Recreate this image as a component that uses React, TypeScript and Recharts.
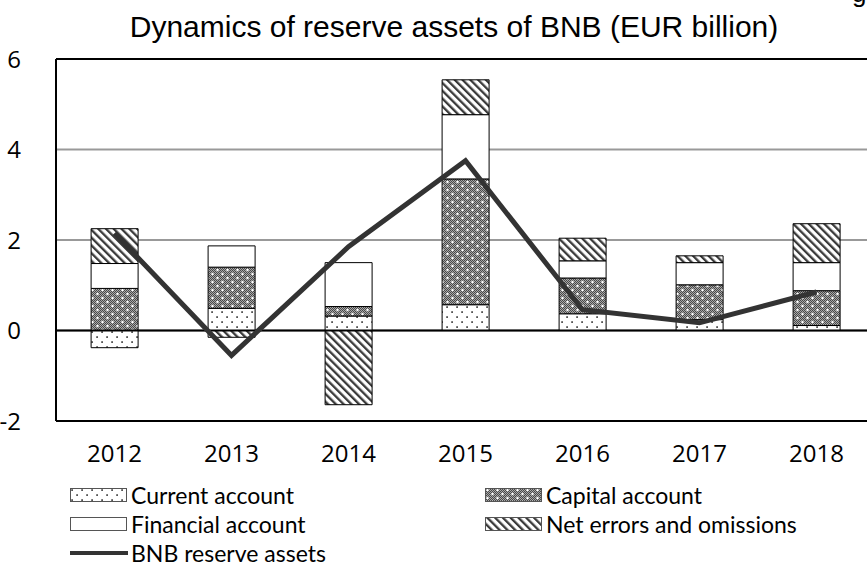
import React from 'react'
import {
  ComposedChart,
  Bar,
  Line,
  XAxis,
  YAxis,
  CartesianGrid,
  ReferenceLine,
} from 'recharts'

const years = ['2012', '2013', '2014', '2015', '2016', '2017', '2018']
const currentAccount = [-0.38, 0.49, 0.32, 0.57, 0.37, 0.24, 0.11]
const capitalAccount = [0.93, 0.91, 0.21, 2.78, 0.79, 0.77, 0.77]
const financialAccount = [0.55, 0.47, 0.97, 1.42, 0.38, 0.49, 0.62]
const netErrors = [0.77, -0.15, -1.64, 0.77, 0.5, 0.15, 0.86]
const reserveAssets = [2.15, -0.55, 1.85, 3.75, 0.46, 0.17, 0.85]
const yTicks = [-2, 0, 2, 4, 6]

const data = years.map((year, i) => ({
  year,
  current: currentAccount[i],
  capital: capitalAccount[i],
  financial: financialAccount[i],
  errors: netErrors[i],
  reserve: reserveAssets[i],
}))

const FONT = '"Open Sans", "Noto Sans", sans-serif'
const LEGEND_FONT = 'Lato, "Open Sans", sans-serif'

// patterns shared by the bars and the legend swatches
function Patterns() {
  return (
    <svg width={0} height={0} style={{ position: 'absolute' }}>
      <defs>
        <pattern id="pDots" width={10} height={10} patternUnits="userSpaceOnUse">
          <rect width={10} height={10} fill="#fff" />
          <rect x={1.2} y={1.2} width={1.8} height={1.8} fill="#555" />
          <rect x={6.2} y={6.2} width={1.8} height={1.8} fill="#555" />
        </pattern>
        <pattern id="pChk" width={2} height={2} patternUnits="userSpaceOnUse">
          <rect width={2} height={2} fill="#a8a8a8" />
          <rect x={0} y={0} width={1} height={1} fill="#484848" />
          <rect x={1} y={1} width={1} height={1} fill="#484848" />
        </pattern>
        <pattern id="pCap" width={10} height={8} patternUnits="userSpaceOnUse">
          <rect width={10} height={8} fill="url(#pChk)" />
          <circle cx={2.5} cy={2} r={1.2} fill="#fff" />
          <circle cx={7.5} cy={6} r={1.2} fill="#fff" />
        </pattern>
        <pattern
          id="pStripe"
          width={5.5}
          height={5.5}
          patternUnits="userSpaceOnUse"
          patternTransform="rotate(-45)"
        >
          <rect width={5.5} height={5.5} fill="#fff" />
          <rect x={0} y={0} width={2.3} height={5.5} fill="#3a3a3a" />
        </pattern>
      </defs>
    </svg>
  )
}

const legendItems = [
  { label: 'Current account', fill: 'url(#pDots)', x: 70, top: 0 },
  { label: 'Capital account', fill: 'url(#pCap)', x: 485, top: 0 },
  { label: 'Financial account', fill: '#fff', x: 70, top: 29 },
  { label: 'Net errors and omissions', fill: 'url(#pStripe)', x: 485, top: 29 },
]

function ChartLegend() {
  return (
    <div style={{ position: 'absolute', left: 0, top: 484, width: 867, height: 82, fontFamily: LEGEND_FONT, fontSize: 23 }}>
      {legendItems.map((it) => (
        <div key={it.label} style={{ position: 'absolute', left: it.x, top: it.top, display: 'flex', alignItems: 'center', height: 22 }}>
          <svg width={58} height={14}>
            <rect x={0.5} y={0.5} width={56} height={13} fill={it.fill} stroke="#555" strokeWidth={1} />
          </svg>
          <span style={{ marginLeft: 3, lineHeight: '22px' }}>{it.label}</span>
        </div>
      ))}
      <div style={{ position: 'absolute', left: 70, top: 58, display: 'flex', alignItems: 'center', height: 22 }}>
        <svg width={58} height={14}>
          <line x1={0} y1={7} x2={58} y2={7} stroke="#333" strokeWidth={4} />
        </svg>
        <span style={{ marginLeft: 3, lineHeight: '22px' }}>BNB reserve assets</span>
      </div>
    </div>
  )
}

export default function App() {
  return (
    <div style={{ position: 'absolute', left: 0, top: 0, width: 867, height: 567, overflow: 'hidden', background: '#fff' }}>
      <Patterns />
      <div
        style={{
          position: 'absolute',
          left: 0,
          width: 908,
          top: 10,
          textAlign: 'center',
          fontFamily: '"Liberation Sans", Arial, sans-serif',
          fontSize: 30,
          color: '#000',
        }}
      >
        Dynamics of reserve assets of BNB (EUR billion)
      </div>
      <div style={{ position: 'absolute', left: 852, top: -22, fontFamily: '"Liberation Sans", Arial, sans-serif', fontSize: 26 }}>g</div>
      <div style={{ position: 'absolute', left: 0, top: 0 }}>
        <ComposedChart
          width={880}
          height={567}
          data={data}
          stackOffset="sign"
          barCategoryGap="30%"
          margin={{ top: 59, right: 5, left: 0, bottom: 106 }}
        >
          <CartesianGrid vertical={false} stroke="#999" strokeWidth={2} />
          <XAxis
            dataKey="year"
            height={40}
            tickSize={0}
            tickMargin={24}
            tickLine={false}
            axisLine={{ stroke: '#000', strokeWidth: 2 }}
            tick={{ fill: '#000', fontSize: 24, fontFamily: FONT }}
          />
          <YAxis
            width={56}
            domain={[-2, 6]}
            ticks={yTicks}
            tickSize={0}
            tickMargin={35}
            tickLine={false}
            axisLine={{ stroke: '#000', strokeWidth: 2 }}
            tick={{ fill: '#000', fontSize: 24, fontFamily: FONT }}
          />
          <ReferenceLine y={6} stroke="#000" strokeWidth={2} />
          <Bar dataKey="current" stackId="a" fill="url(#pDots)" stroke="#000" strokeWidth={1} isAnimationActive={false} />
          <Bar dataKey="capital" stackId="a" fill="url(#pCap)" stroke="#000" strokeWidth={1} isAnimationActive={false} />
          <Bar dataKey="financial" stackId="a" fill="#fff" stroke="#000" strokeWidth={1} isAnimationActive={false} />
          <Bar dataKey="errors" stackId="a" fill="url(#pStripe)" stroke="#000" strokeWidth={1} isAnimationActive={false} />
          <ReferenceLine y={0} stroke="#000" strokeWidth={2} />
          <Line
            dataKey="reserve"
            type="linear"
            stroke="#333"
            strokeWidth={5}
            dot={false}
            activeDot={false}
            isAnimationActive={false}
          />
        </ComposedChart>
      </div>
      <ChartLegend />
    </div>
  )
}
